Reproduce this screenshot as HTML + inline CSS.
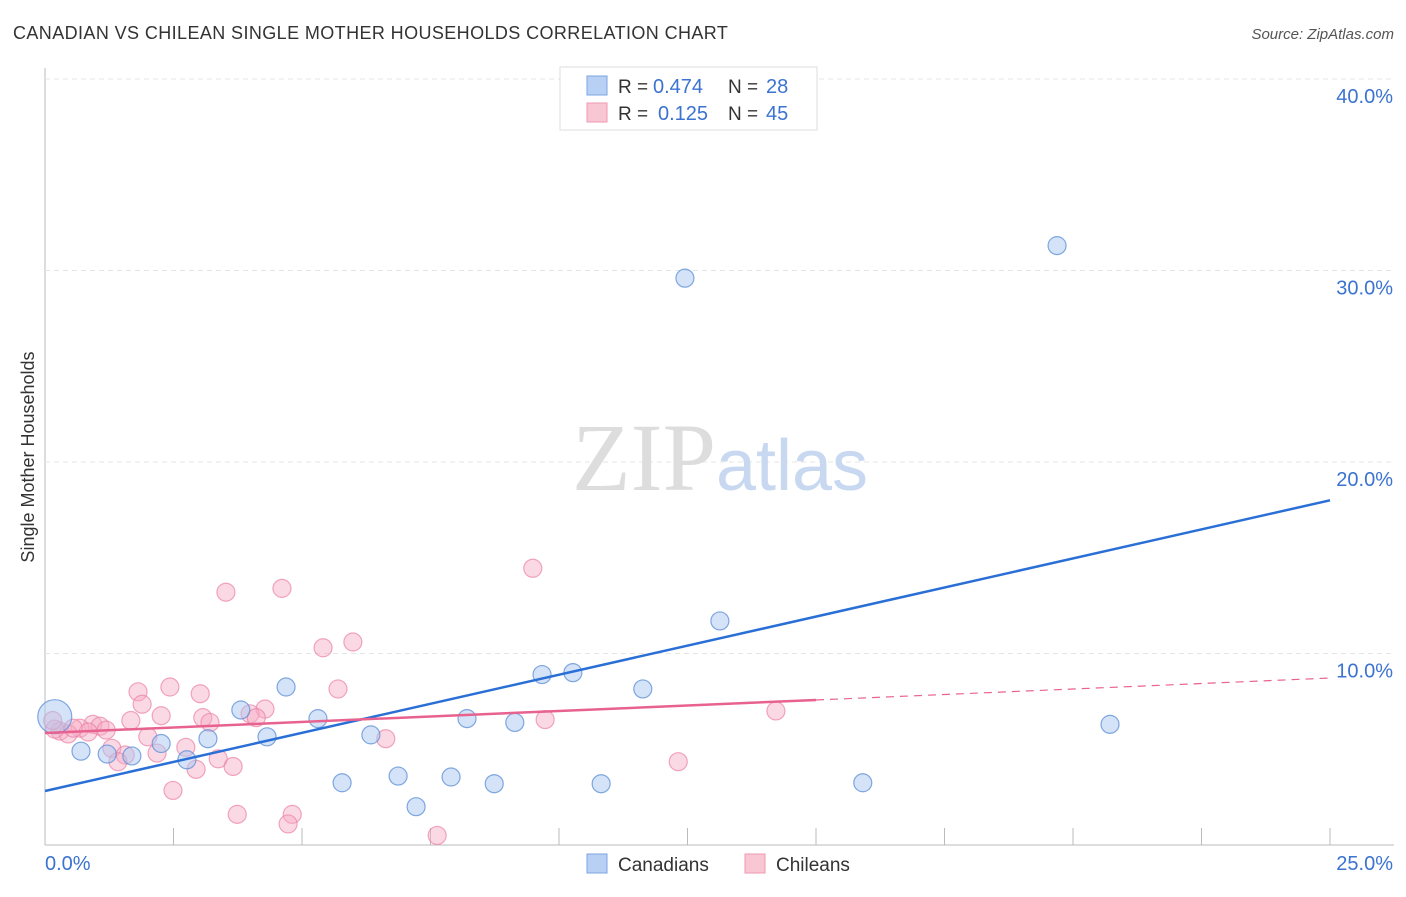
<!DOCTYPE html>
<html><head><meta charset="utf-8"><style>
body{margin:0;background:#fff;font-family:"Liberation Sans",sans-serif}
</style></head><body>
<svg id="chart" width="1406" height="892" xmlns="http://www.w3.org/2000/svg" font-family="Liberation Sans, sans-serif">
<text x="13" y="39" font-size="18" fill="#333" letter-spacing="0.4">CANADIAN VS CHILEAN SINGLE MOTHER HOUSEHOLDS CORRELATION CHART</text>
<text x="1394" y="39" font-size="15" fill="#555" text-anchor="end" font-style="italic">Source: ZipAtlas.com</text>
<text transform="translate(34,457) rotate(-90)" font-size="18" fill="#333" text-anchor="middle">Single Mother Households</text>
<g id="grid"></g>
<text x="720" y="490" font-size="96" text-anchor="middle"><tspan fill="#ddd" font-family="Liberation Serif, serif">ZIP</tspan><tspan fill="#c8d8f0" font-size="72">atlas</tspan></text>
<g id="marks"></g>
<g>
<rect x="560" y="67" width="257" height="63" fill="#fff" stroke="#ddd"/>
<rect x="587" y="76" width="20" height="19" fill="#b8d0f4" stroke="#7aa5e0"/>
<text x="618" y="93" font-size="19" fill="#333">R =</text>
<text x="653" y="93" font-size="20" fill="#3b73d1">0.474</text>
<text x="728" y="93" font-size="19" fill="#333">N =</text>
<text x="766" y="93" font-size="20" fill="#3b73d1">28</text>
<rect x="587" y="103" width="20" height="19" fill="#f9c6d4" stroke="#ef9ab2"/>
<text x="618" y="120" font-size="19" fill="#333">R =</text>
<text x="658" y="120" font-size="20" fill="#3b73d1">0.125</text>
<text x="728" y="120" font-size="19" fill="#333">N =</text>
<text x="766" y="120" font-size="20" fill="#3b73d1">45</text>
</g>
<g>
<rect x="587" y="854" width="20" height="19" fill="#b8d0f4" stroke="#7aa5e0"/>
<text x="618" y="871" font-size="19" fill="#333">Canadians</text>
<rect x="745" y="854" width="20" height="19" fill="#f9c6d4" stroke="#ef9ab2"/>
<text x="776" y="871" font-size="19" fill="#333">Chileans</text>
</g>
</svg>
<script>
const xTicks=[0,2.5,5,7.5,10,12.5,15,17.5,20,22.5,25];
const yTicks=[10,20,30,40];
const canX=[12.45,19.69,13.13,9.67,10.27,11.63,20.72,4.69,3.81,5.31,8.21,9.14,3.17,4.32,6.34,2.26,0.70,1.21,1.69,2.76,5.78,6.87,7.90,8.74,10.82,15.91,7.22,0.19];
const canY=[29.6,31.3,11.7,8.9,9.0,8.15,6.3,8.25,7.05,6.6,6.6,6.4,5.55,5.65,5.75,5.3,4.9,4.75,4.65,4.45,3.25,3.6,3.55,3.2,3.2,3.25,2.0,6.7];
const chiX=[9.49,3.52,4.61,5.99,5.41,1.81,2.43,3.02,5.70,1.89,4.28,3.99,4.11,2.26,3.07,3.21,1.67,9.73,14.22,0.93,1.07,1.19,0.68,0.84,0.29,0.45,0.19,2.00,1.30,2.74,2.18,1.56,1.42,3.37,3.66,2.94,6.63,12.32,2.49,3.74,4.81,4.73,7.63,0.15,0.55];
const chiY=[14.45,13.2,13.4,10.6,10.3,8.0,8.25,7.9,8.15,7.35,7.1,6.85,6.65,6.75,6.65,6.4,6.5,6.55,7.0,6.3,6.2,6.0,6.1,5.9,5.95,5.8,6.05,5.65,5.05,5.1,4.8,4.7,4.35,4.5,4.1,3.95,5.55,4.35,2.85,1.6,1.6,1.1,0.5,6.5,6.1];
const canFit=[2.82,18.0];
const chiFit=[5.85,8.72];
const chiSolidEnd=15;
const X=v=>45+v*51.4, Y=v=>845-v*19.15;
const NS='http://www.w3.org/2000/svg';
function mk(tag,attrs,parent){const e=document.createElementNS(NS,tag);for(const k in attrs)e.setAttribute(k,attrs[k]);parent.appendChild(e);return e;}
const grid=document.getElementById('grid'), marks=document.getElementById('marks');
let ax=mk('line',{x1:45,y1:845,x2:1394,y2:845,stroke:'#bbb'},grid);


let ay=mk('line',{x1:45,y1:68,x2:45,y2:845,stroke:'#bbb'},grid);


xTicks.forEach((t,i)=>{if(i==0)return;const l=mk('line',{x1:X(t),y1:828,x2:X(t),y2:845,stroke:'#bbb'},grid);

});
yTicks.forEach(t=>{const l=mk('line',{x1:45,y1:Y(t),x2:1394,y2:Y(t),stroke:'#e4e4e4','stroke-dasharray':'5,4'},grid);


const tx=mk('text',{x:1393,y:Y(t)+24,'font-size':20,fill:'#3b73d1','text-anchor':'end'},grid);tx.textContent=t.toFixed(1)+'%';

});
let x0=mk('text',{x:45,y:870,'font-size':20,fill:'#3b73d1'},grid);x0.textContent='0.0%';


let x1=mk('text',{x:1393,y:870,'font-size':20,fill:'#3b73d1','text-anchor':'end'},grid);x1.textContent='25.0%';


chiX.forEach((v,i)=>{const c=mk('circle',{cx:X(v),cy:Y(chiY[i]),r:9,fill:'rgba(246,170,195,0.45)',stroke:'rgba(235,130,165,0.7)','stroke-width':1.2},marks);

});
canX.forEach((v,i)=>{const big=i==canX.length-1;const c=mk('circle',{cx:X(v),cy:Y(canY[i]),r:big?17:9,fill:'rgba(170,200,240,0.5)',stroke:'rgba(90,140,215,0.75)','stroke-width':1.2},marks);

});
let bl=mk('line',{x1:X(0),y1:Y(canFit[0]),x2:X(25),y2:Y(canFit[1]),stroke:'#2a6fd6','stroke-width':2.5},marks);


const chiAt=x=>chiFit[0]+(chiFit[1]-chiFit[0])*x/25;
let pl=mk('line',{x1:X(0),y1:Y(chiFit[0]),x2:X(chiSolidEnd),y2:Y(chiAt(chiSolidEnd)),stroke:'#e8628f','stroke-width':2.5},marks);


let pd=mk('line',{x1:X(chiSolidEnd),y1:Y(chiAt(chiSolidEnd)),x2:X(25),y2:Y(chiFit[1]),stroke:'#e8628f','stroke-width':1.2,'stroke-dasharray':'8,6'},marks);


</script>
</body></html>
